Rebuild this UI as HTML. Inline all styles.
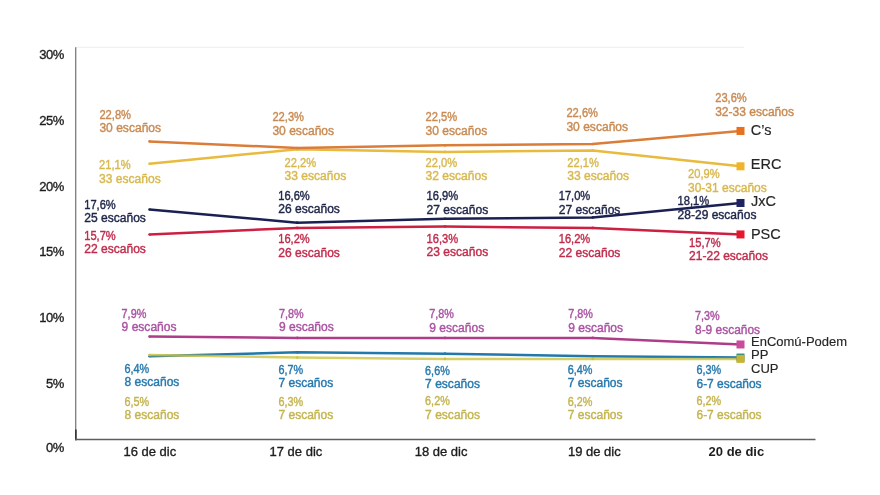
<!DOCTYPE html><html><head><meta charset="utf-8"><style>html,body{margin:0;padding:0;background:#fff;}body{width:880px;height:495px;overflow:hidden;position:relative;font-family:"Liberation Sans",sans-serif;}svg{position:absolute;left:0;top:0;will-change:transform;}text{font-family:"Liberation Sans",sans-serif;}</style></head><body>
<svg width="880" height="495" viewBox="0 0 880 495">
<line x1="76" y1="47.3" x2="744" y2="47.3" stroke="#f1f1f1" stroke-width="1.2"/>
<line x1="75.7" y1="47.3" x2="75.7" y2="440.2" stroke="#7c7c7c" stroke-width="1.3"/>
<line x1="75.9" y1="429.5" x2="75.9" y2="440.2" stroke="#2a2a2a" stroke-width="1.5"/>
<line x1="75.2" y1="439.5" x2="815.5" y2="439.5" stroke="#5e5e5e" stroke-width="1.6"/>
<text x="64" y="59.2" text-anchor="end" font-size="13" letter-spacing="-0.4" fill="#1e1e1e" stroke="#1e1e1e" stroke-width="0.35">30%</text>
<text x="64" y="124.9" text-anchor="end" font-size="13" letter-spacing="-0.4" fill="#1e1e1e" stroke="#1e1e1e" stroke-width="0.35">25%</text>
<text x="64" y="190.6" text-anchor="end" font-size="13" letter-spacing="-0.4" fill="#1e1e1e" stroke="#1e1e1e" stroke-width="0.35">20%</text>
<text x="64" y="256.3" text-anchor="end" font-size="13" letter-spacing="-0.4" fill="#1e1e1e" stroke="#1e1e1e" stroke-width="0.35">15%</text>
<text x="64" y="322.0" text-anchor="end" font-size="13" letter-spacing="-0.4" fill="#1e1e1e" stroke="#1e1e1e" stroke-width="0.35">10%</text>
<text x="64" y="387.5" text-anchor="end" font-size="13" letter-spacing="-0.4" fill="#1e1e1e" stroke="#1e1e1e" stroke-width="0.35">5%</text>
<text x="64" y="452.4" text-anchor="end" font-size="13" letter-spacing="-0.4" fill="#1e1e1e" stroke="#1e1e1e" stroke-width="0.35">0%</text>
<text x="149.8" y="456.4" text-anchor="middle" font-size="13" font-weight="normal" fill="#1e1e1e" stroke="#1e1e1e" stroke-width="0.35">16 de dic</text>
<text x="295.9" y="456.4" text-anchor="middle" font-size="13" font-weight="normal" fill="#1e1e1e" stroke="#1e1e1e" stroke-width="0.35">17 de dic</text>
<text x="441.1" y="456.4" text-anchor="middle" font-size="13" font-weight="normal" fill="#1e1e1e" stroke="#1e1e1e" stroke-width="0.35">18 de dic</text>
<text x="594.3" y="456.4" text-anchor="middle" font-size="13" font-weight="normal" fill="#1e1e1e" stroke="#1e1e1e" stroke-width="0.35">19 de dic</text>
<text x="736.4" y="456.4" text-anchor="middle" font-size="13" font-weight="bold" fill="#1e1e1e">20 de dic</text>
<polyline points="149.50,336.61 297.25,337.92 445.00,337.92 592.75,337.92 740.50,344.47" fill="none" stroke="#ad3d88" stroke-width="2.5" stroke-linejoin="round"/>
<circle cx="149.50" cy="336.61" r="1.3" fill="#ad3d88"/>
<circle cx="297.25" cy="337.92" r="1.3" fill="#ad3d88"/>
<circle cx="445.00" cy="337.92" r="1.3" fill="#ad3d88"/>
<circle cx="592.75" cy="337.92" r="1.3" fill="#ad3d88"/>
<polyline points="149.50,356.26 297.25,352.33 445.00,353.64 592.75,356.26 740.50,357.57" fill="none" stroke="#2278aa" stroke-width="2.5" stroke-linejoin="round"/>
<circle cx="149.50" cy="356.26" r="1.3" fill="#2278aa"/>
<circle cx="297.25" cy="352.33" r="1.3" fill="#2278aa"/>
<circle cx="445.00" cy="353.64" r="1.3" fill="#2278aa"/>
<circle cx="592.75" cy="356.26" r="1.3" fill="#2278aa"/>
<polyline points="149.50,354.95 297.25,357.57 445.00,358.88 592.75,358.88 740.50,358.88" fill="none" stroke="#cdc33e" stroke-width="2.5" stroke-linejoin="round" stroke-opacity="0.8"/>
<circle cx="149.50" cy="354.95" r="1.3" fill="#cdc33e"/>
<circle cx="297.25" cy="357.57" r="1.3" fill="#cdc33e"/>
<circle cx="445.00" cy="358.88" r="1.3" fill="#cdc33e"/>
<circle cx="592.75" cy="358.88" r="1.3" fill="#cdc33e"/>
<polyline points="149.50,234.43 297.25,227.88 445.00,226.57 592.75,227.88 740.50,234.43" fill="none" stroke="#cc1f42" stroke-width="2.5" stroke-linejoin="round"/>
<circle cx="149.50" cy="234.43" r="1.3" fill="#cc1f42"/>
<circle cx="297.25" cy="227.88" r="1.3" fill="#cc1f42"/>
<circle cx="445.00" cy="226.57" r="1.3" fill="#cc1f42"/>
<circle cx="592.75" cy="227.88" r="1.3" fill="#cc1f42"/>
<polyline points="149.50,209.54 297.25,222.64 445.00,218.71 592.75,217.40 740.50,202.99" fill="none" stroke="#1a2152" stroke-width="2.5" stroke-linejoin="round"/>
<circle cx="149.50" cy="209.54" r="1.3" fill="#1a2152"/>
<circle cx="297.25" cy="222.64" r="1.3" fill="#1a2152"/>
<circle cx="445.00" cy="218.71" r="1.3" fill="#1a2152"/>
<circle cx="592.75" cy="217.40" r="1.3" fill="#1a2152"/>
<polyline points="149.50,163.69 297.25,149.28 445.00,151.90 592.75,150.59 740.50,166.31" fill="none" stroke="#e8ba3e" stroke-width="2.5" stroke-linejoin="round"/>
<circle cx="149.50" cy="163.69" r="1.3" fill="#e8ba3e"/>
<circle cx="297.25" cy="149.28" r="1.3" fill="#e8ba3e"/>
<circle cx="445.00" cy="151.90" r="1.3" fill="#e8ba3e"/>
<circle cx="592.75" cy="150.59" r="1.3" fill="#e8ba3e"/>
<polyline points="149.50,141.42 297.25,147.97 445.00,145.35 592.75,144.04 740.50,130.94" fill="none" stroke="#db7d38" stroke-width="2.5" stroke-linejoin="round"/>
<circle cx="149.50" cy="141.42" r="1.3" fill="#db7d38"/>
<circle cx="297.25" cy="147.97" r="1.3" fill="#db7d38"/>
<circle cx="445.00" cy="145.35" r="1.3" fill="#db7d38"/>
<circle cx="592.75" cy="144.04" r="1.3" fill="#db7d38"/>
<rect x="736.50" y="340.47" width="8" height="8" fill="#cc4a9e"/>
<rect x="736.50" y="353.57" width="8" height="8" fill="#2a8a8a"/>
<rect x="736.50" y="354.88" width="8" height="8" fill="#c8b430"/>
<rect x="736.50" y="230.43" width="8" height="8" fill="#e5162e"/>
<rect x="736.50" y="198.99" width="8" height="8" fill="#1c2262"/>
<rect x="736.50" y="162.31" width="8" height="8" fill="#f0b42a"/>
<rect x="736.50" y="126.94" width="8" height="8" fill="#e8701f"/>
<text x="121.6" y="317.9" font-size="12.3" textLength="24.7" lengthAdjust="spacingAndGlyphs" fill="#aa53a2" stroke="#aa53a2" stroke-width="0.4">7,9%</text>
<text x="121.6" y="331.4" font-size="12.3" textLength="54.9" lengthAdjust="spacingAndGlyphs" fill="#aa53a2" stroke="#aa53a2" stroke-width="0.4">9 escaños</text>
<text x="278.9" y="317.9" font-size="12.3" textLength="24.7" lengthAdjust="spacingAndGlyphs" fill="#aa53a2" stroke="#aa53a2" stroke-width="0.4">7,8%</text>
<text x="278.9" y="331.4" font-size="12.3" textLength="54.9" lengthAdjust="spacingAndGlyphs" fill="#aa53a2" stroke="#aa53a2" stroke-width="0.4">9 escaños</text>
<text x="429.3" y="318.4" font-size="12.3" textLength="24.7" lengthAdjust="spacingAndGlyphs" fill="#aa53a2" stroke="#aa53a2" stroke-width="0.4">7,8%</text>
<text x="429.3" y="331.9" font-size="12.3" textLength="54.9" lengthAdjust="spacingAndGlyphs" fill="#aa53a2" stroke="#aa53a2" stroke-width="0.4">9 escaños</text>
<text x="568.2" y="318.4" font-size="12.3" textLength="24.7" lengthAdjust="spacingAndGlyphs" fill="#aa53a2" stroke="#aa53a2" stroke-width="0.4">7,8%</text>
<text x="568.2" y="331.9" font-size="12.3" textLength="54.9" lengthAdjust="spacingAndGlyphs" fill="#aa53a2" stroke="#aa53a2" stroke-width="0.4">9 escaños</text>
<text x="695.0" y="320.3" font-size="12.3" textLength="24.7" lengthAdjust="spacingAndGlyphs" fill="#aa53a2" stroke="#aa53a2" stroke-width="0.4">7,3%</text>
<text x="695.0" y="333.8" font-size="12.3" textLength="65.1" lengthAdjust="spacingAndGlyphs" fill="#aa53a2" stroke="#aa53a2" stroke-width="0.4">8-9 escaños</text>
<text x="124.5" y="372.9" font-size="12.3" textLength="24.7" lengthAdjust="spacingAndGlyphs" fill="#2779ad" stroke="#2779ad" stroke-width="0.4">6,4%</text>
<text x="124.5" y="386.4" font-size="12.3" textLength="54.9" lengthAdjust="spacingAndGlyphs" fill="#2779ad" stroke="#2779ad" stroke-width="0.4">8 escaños</text>
<text x="278.4" y="373.7" font-size="12.3" textLength="24.7" lengthAdjust="spacingAndGlyphs" fill="#2779ad" stroke="#2779ad" stroke-width="0.4">6,7%</text>
<text x="278.4" y="387.2" font-size="12.3" textLength="54.9" lengthAdjust="spacingAndGlyphs" fill="#2779ad" stroke="#2779ad" stroke-width="0.4">7 escaños</text>
<text x="425.1" y="374.7" font-size="12.3" textLength="24.7" lengthAdjust="spacingAndGlyphs" fill="#2779ad" stroke="#2779ad" stroke-width="0.4">6,6%</text>
<text x="425.1" y="388.2" font-size="12.3" textLength="54.9" lengthAdjust="spacingAndGlyphs" fill="#2779ad" stroke="#2779ad" stroke-width="0.4">7 escaños</text>
<text x="567.7" y="373.7" font-size="12.3" textLength="24.7" lengthAdjust="spacingAndGlyphs" fill="#2779ad" stroke="#2779ad" stroke-width="0.4">6,4%</text>
<text x="567.7" y="387.2" font-size="12.3" textLength="54.9" lengthAdjust="spacingAndGlyphs" fill="#2779ad" stroke="#2779ad" stroke-width="0.4">7 escaños</text>
<text x="696.5" y="374.1" font-size="12.3" textLength="24.7" lengthAdjust="spacingAndGlyphs" fill="#2779ad" stroke="#2779ad" stroke-width="0.4">6,3%</text>
<text x="696.5" y="387.6" font-size="12.3" textLength="65.1" lengthAdjust="spacingAndGlyphs" fill="#2779ad" stroke="#2779ad" stroke-width="0.4">6-7 escaños</text>
<text x="124.5" y="405.7" font-size="12.3" textLength="24.7" lengthAdjust="spacingAndGlyphs" fill="#c4b450" stroke="#c4b450" stroke-width="0.4">6,5%</text>
<text x="124.5" y="419.2" font-size="12.3" textLength="54.9" lengthAdjust="spacingAndGlyphs" fill="#c4b450" stroke="#c4b450" stroke-width="0.4">8 escaños</text>
<text x="278.4" y="405.7" font-size="12.3" textLength="24.7" lengthAdjust="spacingAndGlyphs" fill="#c4b450" stroke="#c4b450" stroke-width="0.4">6,3%</text>
<text x="278.4" y="419.2" font-size="12.3" textLength="54.9" lengthAdjust="spacingAndGlyphs" fill="#c4b450" stroke="#c4b450" stroke-width="0.4">7 escaños</text>
<text x="425.1" y="405.3" font-size="12.3" textLength="24.7" lengthAdjust="spacingAndGlyphs" fill="#c4b450" stroke="#c4b450" stroke-width="0.4">6,2%</text>
<text x="425.1" y="418.8" font-size="12.3" textLength="54.9" lengthAdjust="spacingAndGlyphs" fill="#c4b450" stroke="#c4b450" stroke-width="0.4">7 escaños</text>
<text x="567.7" y="405.7" font-size="12.3" textLength="24.7" lengthAdjust="spacingAndGlyphs" fill="#c4b450" stroke="#c4b450" stroke-width="0.4">6,2%</text>
<text x="567.7" y="419.2" font-size="12.3" textLength="54.9" lengthAdjust="spacingAndGlyphs" fill="#c4b450" stroke="#c4b450" stroke-width="0.4">7 escaños</text>
<text x="696.5" y="405.1" font-size="12.3" textLength="24.7" lengthAdjust="spacingAndGlyphs" fill="#c4b450" stroke="#c4b450" stroke-width="0.4">6,2%</text>
<text x="696.5" y="418.6" font-size="12.3" textLength="65.1" lengthAdjust="spacingAndGlyphs" fill="#c4b450" stroke="#c4b450" stroke-width="0.4">6-7 escaños</text>
<text x="84.2" y="239.7" font-size="12.3" textLength="31.6" lengthAdjust="spacingAndGlyphs" fill="#c02c4c" stroke="#c02c4c" stroke-width="0.4">15,7%</text>
<text x="84.2" y="253.2" font-size="12.3" textLength="61.7" lengthAdjust="spacingAndGlyphs" fill="#c02c4c" stroke="#c02c4c" stroke-width="0.4">22 escaños</text>
<text x="278.2" y="243.2" font-size="12.3" textLength="31.6" lengthAdjust="spacingAndGlyphs" fill="#c02c4c" stroke="#c02c4c" stroke-width="0.4">16,2%</text>
<text x="278.2" y="256.7" font-size="12.3" textLength="61.7" lengthAdjust="spacingAndGlyphs" fill="#c02c4c" stroke="#c02c4c" stroke-width="0.4">26 escaños</text>
<text x="426.5" y="242.9" font-size="12.3" textLength="31.6" lengthAdjust="spacingAndGlyphs" fill="#c02c4c" stroke="#c02c4c" stroke-width="0.4">16,3%</text>
<text x="426.5" y="256.4" font-size="12.3" textLength="61.7" lengthAdjust="spacingAndGlyphs" fill="#c02c4c" stroke="#c02c4c" stroke-width="0.4">23 escaños</text>
<text x="558.7" y="243.2" font-size="12.3" textLength="31.6" lengthAdjust="spacingAndGlyphs" fill="#c02c4c" stroke="#c02c4c" stroke-width="0.4">16,2%</text>
<text x="558.7" y="256.7" font-size="12.3" textLength="61.7" lengthAdjust="spacingAndGlyphs" fill="#c02c4c" stroke="#c02c4c" stroke-width="0.4">22 escaños</text>
<text x="689.1" y="246.8" font-size="12.3" textLength="31.6" lengthAdjust="spacingAndGlyphs" fill="#c02c4c" stroke="#c02c4c" stroke-width="0.4">15,7%</text>
<text x="689.1" y="260.3" font-size="12.3" textLength="78.8" lengthAdjust="spacingAndGlyphs" fill="#c02c4c" stroke="#c02c4c" stroke-width="0.4">21-22 escaños</text>
<text x="84.2" y="208.7" font-size="12.3" textLength="31.6" lengthAdjust="spacingAndGlyphs" fill="#1d2448" stroke="#1d2448" stroke-width="0.4">17,6%</text>
<text x="84.2" y="222.2" font-size="12.3" textLength="61.7" lengthAdjust="spacingAndGlyphs" fill="#1d2448" stroke="#1d2448" stroke-width="0.4">25 escaños</text>
<text x="278.2" y="199.6" font-size="12.3" textLength="31.6" lengthAdjust="spacingAndGlyphs" fill="#1d2448" stroke="#1d2448" stroke-width="0.4">16,6%</text>
<text x="278.2" y="213.1" font-size="12.3" textLength="61.7" lengthAdjust="spacingAndGlyphs" fill="#1d2448" stroke="#1d2448" stroke-width="0.4">26 escaños</text>
<text x="426.5" y="200.0" font-size="12.3" textLength="31.6" lengthAdjust="spacingAndGlyphs" fill="#1d2448" stroke="#1d2448" stroke-width="0.4">16,9%</text>
<text x="426.5" y="213.5" font-size="12.3" textLength="61.7" lengthAdjust="spacingAndGlyphs" fill="#1d2448" stroke="#1d2448" stroke-width="0.4">27 escaños</text>
<text x="558.7" y="200.0" font-size="12.3" textLength="31.6" lengthAdjust="spacingAndGlyphs" fill="#1d2448" stroke="#1d2448" stroke-width="0.4">17,0%</text>
<text x="558.7" y="213.5" font-size="12.3" textLength="61.7" lengthAdjust="spacingAndGlyphs" fill="#1d2448" stroke="#1d2448" stroke-width="0.4">27 escaños</text>
<text x="677.6" y="205.0" font-size="12.3" textLength="31.6" lengthAdjust="spacingAndGlyphs" fill="#1d2448" stroke="#1d2448" stroke-width="0.4">18,1%</text>
<text x="677.6" y="218.5" font-size="12.3" textLength="78.8" lengthAdjust="spacingAndGlyphs" fill="#1d2448" stroke="#1d2448" stroke-width="0.4">28-29 escaños</text>
<text x="99.0" y="169.0" font-size="12.3" textLength="31.6" lengthAdjust="spacingAndGlyphs" fill="#d8b84e" stroke="#d8b84e" stroke-width="0.4">21,1%</text>
<text x="99.0" y="182.5" font-size="12.3" textLength="61.7" lengthAdjust="spacingAndGlyphs" fill="#d8b84e" stroke="#d8b84e" stroke-width="0.4">33 escaños</text>
<text x="284.5" y="166.5" font-size="12.3" textLength="31.6" lengthAdjust="spacingAndGlyphs" fill="#d8b84e" stroke="#d8b84e" stroke-width="0.4">22,2%</text>
<text x="284.5" y="180.0" font-size="12.3" textLength="61.7" lengthAdjust="spacingAndGlyphs" fill="#d8b84e" stroke="#d8b84e" stroke-width="0.4">33 escaños</text>
<text x="425.5" y="166.5" font-size="12.3" textLength="31.6" lengthAdjust="spacingAndGlyphs" fill="#d8b84e" stroke="#d8b84e" stroke-width="0.4">22,0%</text>
<text x="425.5" y="180.0" font-size="12.3" textLength="61.7" lengthAdjust="spacingAndGlyphs" fill="#d8b84e" stroke="#d8b84e" stroke-width="0.4">32 escaños</text>
<text x="567.3" y="166.5" font-size="12.3" textLength="31.6" lengthAdjust="spacingAndGlyphs" fill="#d8b84e" stroke="#d8b84e" stroke-width="0.4">22,1%</text>
<text x="567.3" y="180.0" font-size="12.3" textLength="61.7" lengthAdjust="spacingAndGlyphs" fill="#d8b84e" stroke="#d8b84e" stroke-width="0.4">33 escaños</text>
<text x="688.0" y="178.0" font-size="12.3" textLength="31.6" lengthAdjust="spacingAndGlyphs" fill="#d8b84e" stroke="#d8b84e" stroke-width="0.4">20,9%</text>
<text x="688.0" y="191.5" font-size="12.3" textLength="78.8" lengthAdjust="spacingAndGlyphs" fill="#d8b84e" stroke="#d8b84e" stroke-width="0.4">30-31 escaños</text>
<text x="99.4" y="118.7" font-size="12.3" textLength="31.6" lengthAdjust="spacingAndGlyphs" fill="#c98a52" stroke="#c98a52" stroke-width="0.4">22,8%</text>
<text x="99.4" y="132.2" font-size="12.3" textLength="61.7" lengthAdjust="spacingAndGlyphs" fill="#c98a52" stroke="#c98a52" stroke-width="0.4">30 escaños</text>
<text x="272.4" y="121.4" font-size="12.3" textLength="31.6" lengthAdjust="spacingAndGlyphs" fill="#c98a52" stroke="#c98a52" stroke-width="0.4">22,3%</text>
<text x="272.4" y="134.9" font-size="12.3" textLength="61.7" lengthAdjust="spacingAndGlyphs" fill="#c98a52" stroke="#c98a52" stroke-width="0.4">30 escaños</text>
<text x="425.5" y="121.1" font-size="12.3" textLength="31.6" lengthAdjust="spacingAndGlyphs" fill="#c98a52" stroke="#c98a52" stroke-width="0.4">22,5%</text>
<text x="425.5" y="134.6" font-size="12.3" textLength="61.7" lengthAdjust="spacingAndGlyphs" fill="#c98a52" stroke="#c98a52" stroke-width="0.4">30 escaños</text>
<text x="566.4" y="117.4" font-size="12.3" textLength="31.6" lengthAdjust="spacingAndGlyphs" fill="#c98a52" stroke="#c98a52" stroke-width="0.4">22,6%</text>
<text x="566.4" y="130.9" font-size="12.3" textLength="61.7" lengthAdjust="spacingAndGlyphs" fill="#c98a52" stroke="#c98a52" stroke-width="0.4">30 escaños</text>
<text x="715.2" y="102.0" font-size="12.3" textLength="31.6" lengthAdjust="spacingAndGlyphs" fill="#c98a52" stroke="#c98a52" stroke-width="0.4">23,6%</text>
<text x="715.2" y="115.5" font-size="12.3" textLength="78.8" lengthAdjust="spacingAndGlyphs" fill="#c98a52" stroke="#c98a52" stroke-width="0.4">32-33 escaños</text>
<text x="750.8" y="135.0" font-size="14.5" fill="#262626" stroke="#262626" stroke-width="0.15">C’s</text>
<text x="750.8" y="169.2" font-size="14.5" fill="#262626" stroke="#262626" stroke-width="0.15">ERC</text>
<text x="750.9" y="206.4" font-size="14.5" fill="#262626" stroke="#262626" stroke-width="0.15">JxC</text>
<text x="750.9" y="238.8" font-size="14.5" fill="#262626" stroke="#262626" stroke-width="0.15">PSC</text>
<text x="751.0" y="345.8" font-size="13" fill="#262626" stroke="#262626" stroke-width="0.15">EnComú-Podem</text>
<text x="751.0" y="359.3" font-size="13" fill="#262626" stroke="#262626" stroke-width="0.15">PP</text>
<text x="751.0" y="372.8" font-size="13" fill="#262626" stroke="#262626" stroke-width="0.15">CUP</text>
</svg></body></html>
